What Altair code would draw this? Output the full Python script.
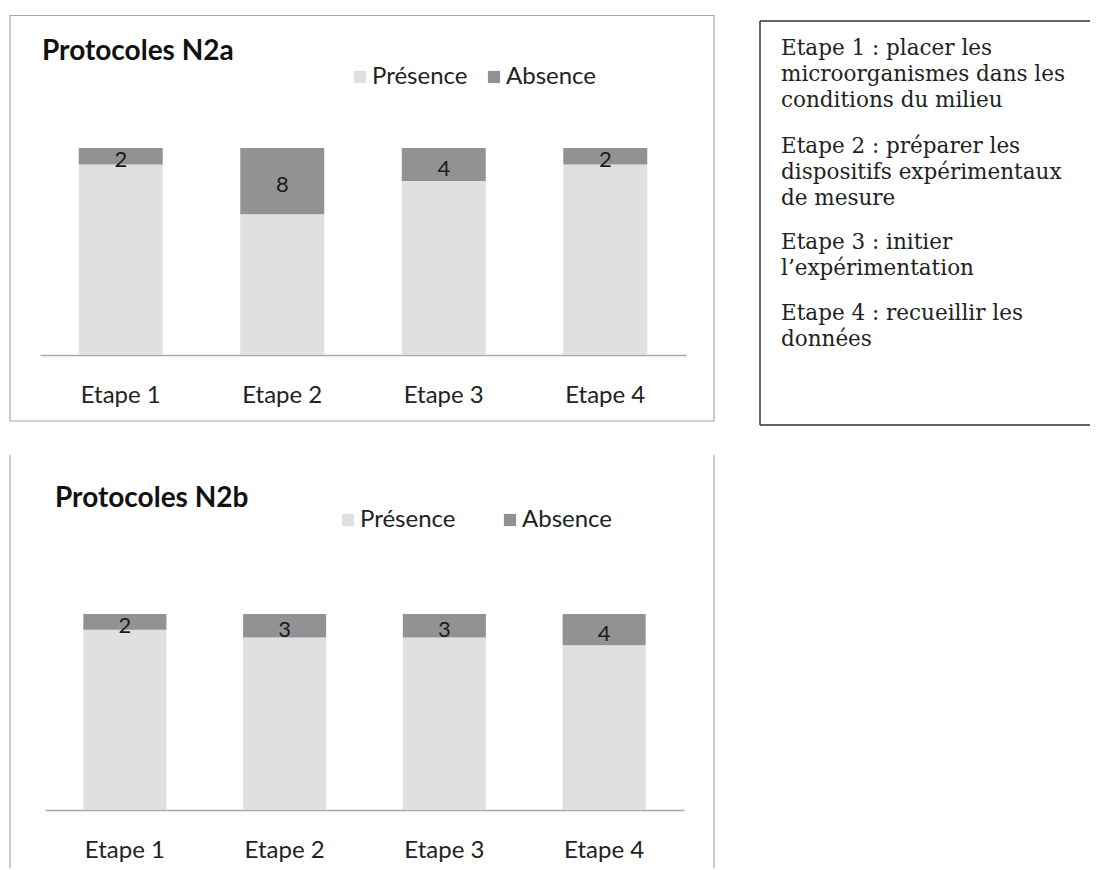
import altair as alt
import pandas as pd

# ---------------- data ----------------
etapes = ["Etape 1", "Etape 2", "Etape 3", "Etape 4"]
series = ["Présence", "Absence"]
presence_n2a = [23, 17, 21, 23]
absence_n2a = [2, 8, 4, 2]
presence_n2b = [23, 22, 22, 21]
absence_n2b = [2, 3, 3, 4]
titre_n2a = ["Protocoles N2a"]
titre_n2b = ["Protocoles N2b"]
encadre = [
    ["Etape 1 : placer les", "microorganismes dans les", "conditions du milieu"],
    ["Etape 2 : préparer les", "dispositifs expérimentaux", "de mesure"],
    ["Etape 3 : initier", "l’expérimentation"],
    ["Etape 4 : recueillir les", "données"],
]
couleurs = ["#e0e0e0", "#929292"]

# ---------------- layout / style ----------------
W, H = 1082, 860
SANS = "Lato"
SERIF = "DejaVu Serif"
one = pd.DataFrame({"k": [0]})


def panel(presence, absence, titre, x_range, y_range, leg_x, leg_y, col_pad,
          label_pad, title_x, title_y):
    df = pd.DataFrame({"etape": etapes, "Présence": presence, "Absence": absence})
    xs = alt.Scale(domain=etapes, range=x_range, paddingInner=0.48, paddingOuter=0.24)
    ys = alt.Scale(domain=[0, 25], range=y_range, nice=False, zero=True)
    axis_offset = -(H - y_range[0])
    ax = alt.Axis(orient="bottom", offset=axis_offset, domainColor="#a9a9a9",
                  domainWidth=1.5, ticks=False, tickSize=0, grid=False,
                  labelPadding=label_pad, labelBaseline="alphabetic",
                  labelFont=SANS, labelFontSize=24, labelColor="#222222",
                  labelAngle=0, title=None)
    base = alt.Chart(df)
    bars = base.transform_fold(series, as_=["serie", "valeur"]).transform_calculate(
        rang="datum.serie === 'Présence' ? 0 : 1"
    ).mark_bar().encode(
        x=alt.X("etape:N", scale=xs, sort=etapes, title=None, axis=ax),
        y=alt.Y("valeur:Q", stack="zero", scale=ys, axis=None),
        color=alt.Color("serie:N", scale=alt.Scale(domain=series, range=couleurs),
                        legend=alt.Legend(orient="none", legendX=leg_x, legendY=leg_y,
                                          direction="horizontal", title=None,
                                          symbolType="square", symbolSize=150,
                                          symbolStrokeWidth=0, labelOffset=0,
                                          labelFont=SANS, labelFontSize=24,
                                          labelColor="#222222", columnPadding=col_pad)),
        order=alt.Order("rang:Q"),
    )
    labels = base.transform_calculate(
        milieu="datum['Présence'] + datum['Absence'] / 2"
    ).mark_text(font=SANS, fontSize=22, color="#1a1a1a", baseline="middle", dy=4).encode(
        x=alt.X("etape:N", scale=xs, sort=etapes, title=None, axis=ax),
        y=alt.Y("milieu:Q", scale=ys, axis=None),
        text=alt.Text("Absence:Q"),
    )
    t = alt.Chart(pd.DataFrame({"titre": titre})).mark_text(
        font=SANS, fontSize=28, fontWeight="bold", color="#111111",
        align="left", baseline="alphabetic"
    ).encode(x=alt.value(title_x), y=alt.value(title_y), text="titre:N")
    return alt.layer(bars, labels, t)


haut = panel(presence_n2a, absence_n2a, titre_n2a, [32, 678], [347, 140],
             340, 57, 14, 47, 34, 52)
bas = panel(presence_n2b, absence_n2b, titre_n2b, [37, 676], [802, 606],
            328, 500, 42, 47, 47, 499)

# frames
cadre_haut = alt.Chart(one).mark_rect(fill=None, stroke="#a6a6a6", strokeWidth=1.2).encode(
    x=alt.value(2), x2=alt.value(706), y=alt.value(7.5), y2=alt.value(413))
cadre_bas_g = alt.Chart(one).mark_rule(color="#a6a6a6", strokeWidth=1.2).encode(
    x=alt.value(2), y=alt.value(447), y2=alt.value(H))
cadre_bas_d = alt.Chart(one).mark_rule(color="#a6a6a6", strokeWidth=1.2).encode(
    x=alt.value(706), y=alt.value(447), y2=alt.value(H))

# text box
box_col = "#333333"
box_top = alt.Chart(one).mark_rule(color=box_col, strokeWidth=1.5).encode(
    x=alt.value(752), x2=alt.value(W), y=alt.value(13))
box_left = alt.Chart(one).mark_rule(color=box_col, strokeWidth=1.5).encode(
    x=alt.value(752), y=alt.value(13), y2=alt.value(417))
box_bottom = alt.Chart(one).mark_rule(color=box_col, strokeWidth=1.5).encode(
    x=alt.value(752), x2=alt.value(W), y=alt.value(417))

para_y = [47, 145, 241, 312]
paras = [
    alt.Chart(one).mark_text(font=SERIF, fontSize=21.5, lineHeight=26, align="left",
                             baseline="alphabetic", color="#222222").encode(
        x=alt.value(773), y=alt.value(py), text=alt.value(lines))
    for lines, py in zip(encadre, para_y)
]

chart = alt.layer(
    cadre_haut, cadre_bas_g, cadre_bas_d, box_top, box_left, box_bottom, *paras, haut, bas
).resolve_scale(x="independent", y="independent", color="independent").properties(
    width=W, height=H, padding=0, background="white",
    autosize=alt.AutoSizeParams(type="none"),
).configure_view(stroke=None)

chart.save("out.html", embed_options={"renderer": "svg", "actions": False})
